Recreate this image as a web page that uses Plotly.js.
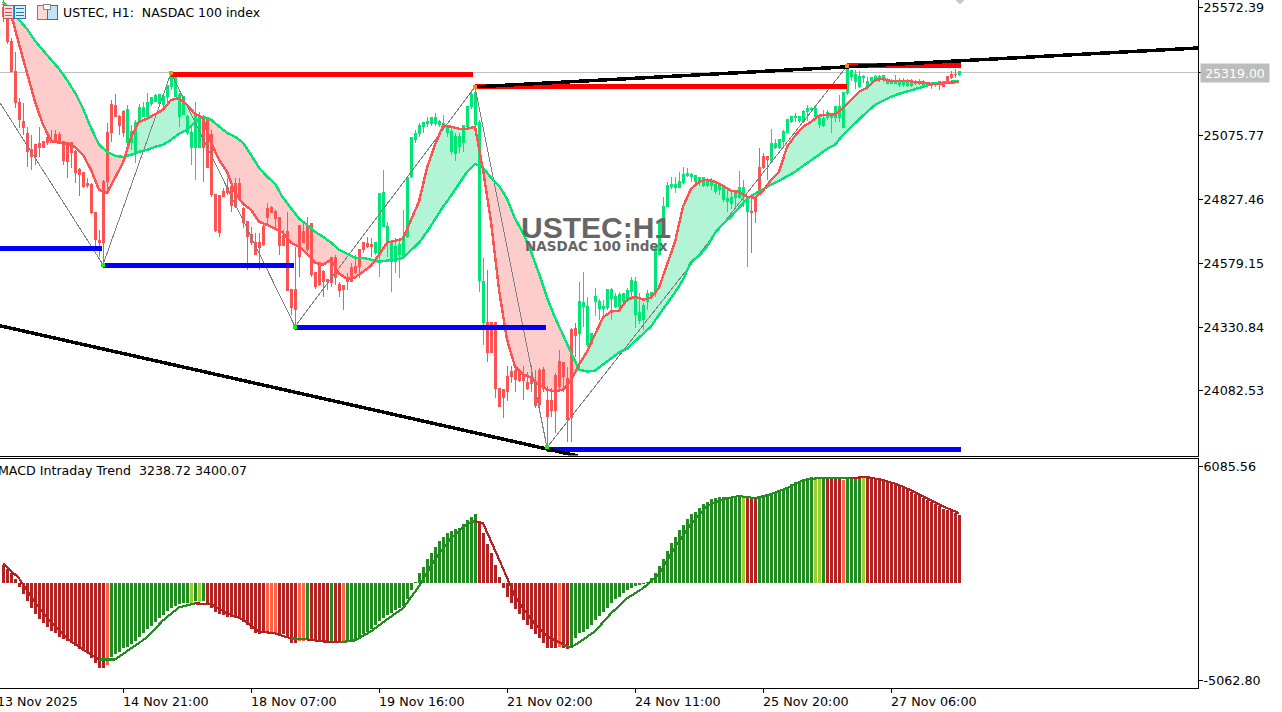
<!DOCTYPE html>
<html>
<head>
<meta charset="utf-8">
<script src="https://cdn.plot.ly/plotly-3.0.1.min.js"></script>
<style>
html,body{margin:0;padding:0;background:#fff;overflow:hidden}
#chart{width:1282px;height:712px}
.main-svg path{shape-rendering:crispEdges}
</style>
</head>
<body>
<div id="chart"></div>
<script>
// Hourly candles (USTEC H1). Body edges are kept as top/bottom because the candle colour
// follows the trend runs below, not the direction of the bar.
const highs=[25602,25532,25454,25399,25221,25202,25109,25078,25039,25109,25050,25085,25097,25097,25089,25050,25050,25050,25019,24950,24934,24911,24891,24775,24709,24903,25124,25213,25237,25156,25175,
25194,25117,25136,25198,25206,25241,25221,25237,25233,25241,25268,25318,25306,25241,25225,25156,25117,25206,25167,
25156,25148,25097,24845,24841,24872,24911,24876,24911,24911,24798,24740,24721,24697,24697,24740,24814,24802,24787,24756,24709,24779,24476,24643,24725,24744,24760,24732,24542,24585,24554,24515,24600,24612,24507,24496,24542,24581,24612,24635,24662,24682,24678,
24662,24852,24942,24740,24670,24678,24670,24787,24915,25066,25097,25124,25128,25148,25144,25163,25136,25156,25117,25113,25085,25085,25117,25186,25252,25256,25136,24600,
24554,24352,24352,24092,24088,24178,24178,24178,24166,24178,24158,24185,24166,24170,24174,24100,24096,24154,24243,24197,24174,24329,24348,
24507,24546,24449,24309,24484,24441,24437,24480,24484,24465,24468,24465,24484,24527,24527,24465,24426,24476,24468,24643,24748,24837,24895,24915,24915,24934,24954,24950,24930,24922,24915,24915,24911,24911,24891,24891,24876,24864,24856,24864,24938,24903,24837,
24833,24837,25027,25008,24996,
25101,25062,25062,25097,25140,25152,25163,25152,25175,25194,25186,25194,25152,25175,25175,25163,25186,25233,25241,25349,25330,25330,25326,25311,25303,25303,25311,25311,25311,25299,25295,25311,25299,25299,25295,25295,25291,25295,25291,25279,25283,25283,
25283,25283,25307,25326,25334,
25326];
const bodyTop=[25571,25524,25439,25322,25202,25128,25082,25019,25039,25043,25050,25066,25054,25078,25078,25050,25047,25047,25012,24942,24930,24888,24884,24775,24666,24895,25085,25194,25190,25148,25167,
25175,25089,25124,25182,25182,25202,25221,25229,25233,25225,25268,25303,25299,25233,25225,25148,25085,25152,25148,
25148,25144,25078,24845,24841,24857,24872,24876,24888,24888,24791,24740,24690,24659,24659,24721,24791,24795,24779,24756,24686,24701,24476,24476,24725,24701,24721,24732,24542,24581,24546,24515,24600,24600,24496,24492,24523,24562,24566,24631,24659,24655,24651,
24659,24849,24852,24721,24662,24643,24651,24682,24911,25066,25082,25113,25124,25128,25144,25144,25128,25120,25105,25089,25070,25070,25113,25186,25233,25241,25124,24507,
24348,24348,24348,24092,24088,24139,24158,24162,24154,24147,24115,24127,24119,24162,24166,24046,24046,24143,24197,24193,24131,24321,24325,
24430,24426,24410,24306,24449,24430,24410,24476,24476,24449,24457,24461,24472,24511,24507,24387,24414,24461,24465,24643,24736,24798,24880,24884,24884,24895,24922,24926,24922,24919,24911,24911,24895,24895,24884,24880,24876,24829,24833,24849,24872,24872,24833,
24779,24833,24950,24992,24992,
25043,25043,25058,25089,25136,25148,25148,25148,25167,25179,25179,25179,25140,25140,25163,25156,25186,25186,25241,25330,25326,25311,25303,25303,25283,25299,25303,25303,25307,25291,25287,25287,25287,25287,25283,25279,25283,25283,25283,25276,25279,25279,
25283,25279,25303,25314,25314,
25322];
const bodyBottom=[25539,25439,25322,25202,25136,25105,25012,24992,24992,25027,25027,25047,25047,25050,25050,24977,24973,25008,24930,24922,24876,24880,24775,24670,24659,24659,24895,25085,25148,25113,25085,
25047,25047,25008,25128,25148,25148,25198,25206,25198,25194,25225,25264,25225,25148,25156,25085,25027,25027,25027,
25027,24950,24845,24705,24697,24837,24852,24802,24798,24833,24736,24682,24659,24612,24639,24651,24756,24775,24752,24647,24647,24472,24406,24399,24604,24659,24631,24534,24488,24496,24507,24507,24503,24523,24472,24476,24507,24507,24542,24566,24631,24643,24643,
24620,24620,24721,24662,24585,24585,24612,24604,24682,24915,25058,25082,25109,25120,25120,25120,25117,25105,25085,25012,25004,25031,25047,25109,25186,25117,24511,24348,
24232,24232,24092,24022,24057,24080,24139,24127,24123,24123,24092,24112,24026,24030,24092,23984,24007,24007,24100,24139,23972,23980,24298,
24306,24410,24263,24267,24430,24403,24403,24406,24441,24410,24410,24430,24434,24468,24379,24356,24360,24430,24453,24465,24612,24736,24798,24876,24872,24872,24891,24919,24915,24895,24895,24880,24880,24880,24856,24864,24825,24818,24810,24833,24833,24837,24779,
24775,24779,24864,24950,24981,
24977,25027,25027,25050,25085,25128,25144,25132,25128,25167,25175,25148,25117,25113,25144,25144,25144,25144,25105,25241,25303,25283,25264,25299,25260,25287,25287,25295,25291,25279,25279,25279,25272,25272,25268,25268,25279,25279,25268,25272,25268,25272,
25276,25264,25287,25299,25311,
25311];
const lows=[25516,25431,25322,25182,25105,25078,24954,24942,24961,24992,25027,25039,25047,25047,25043,24961,24911,24950,24891,24841,24872,24872,24771,24631,24604,24577,24864,25050,25148,25078,25070,
25019,25019,24969,25128,25148,25148,25190,25206,25186,25182,25190,25252,25225,25109,25156,25078,24961,24903,25027,
24895,24950,24837,24701,24682,24837,24845,24779,24795,24825,24717,24554,24651,24612,24554,24647,24732,24775,24717,24612,24647,24472,24379,24337,24527,24659,24624,24527,24480,24492,24449,24476,24488,24496,24449,24399,24476,24507,24538,24523,24620,24639,24604,
24612,24527,24721,24604,24468,24542,24523,24604,24678,24911,25047,25070,25085,25109,25113,25113,25109,25097,25070,25000,24977,25008,25012,25109,25179,25117,24468,24263,
24197,24232,24057,24022,23976,24042,24112,24077,24119,24046,24088,24077,24018,24022,24080,23867,23980,23921,24077,24077,23883,23883,24216,
24166,24333,24255,24263,24372,24360,24372,24399,24360,24406,24399,24426,24430,24437,24329,24341,24321,24399,24445,24449,24612,24682,24798,24868,24852,24872,24888,24915,24895,24876,24880,24876,24876,24864,24849,24845,24818,24779,24790,24798,24829,24798,24566,
24620,24736,24864,24946,24903,
24973,25023,25023,25027,25085,25124,25128,25124,25124,25132,25175,25144,25105,25109,25136,25085,25128,25128,25105,25233,25287,25256,25260,25279,25252,25283,25283,25283,25283,25276,25279,25276,25264,25264,25264,25264,25272,25272,25260,25264,25256,25264,
25252,25264,25283,25295,25299,
25307];
const candleRuns=[['r',31],['g',19],['r',43],['g',28],['r',23],['g',43],['r',5],['g',42],['r',5],['g',1]];

// Moving averages, read at every second bar plus the last bar
const maFast=[25586,25547,25431,25318,25206,25117,25054,25047,25043,25031,
25000,24942,24864,24852,24911,24969,25070,25128,25140,25156,
25175,25213,25221,25194,25159,25144,25047,24981,24934,24852,
24810,24787,24740,24728,24713,24697,24659,24643,24616,24581,
24573,24593,24538,24519,24523,24546,24569,24612,24659,24666,
24674,24748,24818,24950,25039,25113,25109,25101,25101,25109,
24942,24740,24476,24282,24178,24147,24135,24108,24088,24080,
24088,24123,24185,24236,24302,24368,24391,24395,24437,24449,
24437,24445,24484,24569,24662,24798,24868,24895,24903,24895,
24880,24860,24856,24837,24833,24860,24903,24934,25031,25074,
25109,25128,25152,25156,25156,25182,25213,25245,25260,25291,
25295,25287,25287,25287,25283,25279,25276,25276,25279,25283,25283];
const maSlow=[25594,25555,25524,25489,25442,25407,25373,25334,25291,25241,
25179,25105,25039,25012,24996,24992,25000,25012,25019,25031,
25039,25058,25082,25097,25128,25148,25136,25109,25085,25070,
25047,25000,24950,24915,24888,24833,24791,24752,24728,24701,
24682,24659,24631,24616,24600,24600,24593,24585,24589,24593,
24600,24631,24659,24701,24752,24798,24841,24888,24934,24965,
24950,24911,24880,24829,24752,24697,24624,24538,24445,24368,
24298,24232,24166,24158,24162,24185,24209,24232,24247,24275,
24302,24333,24379,24422,24465,24515,24585,24608,24643,24697,
24732,24760,24795,24829,24849,24868,24884,24899,24915,24934,
24957,24977,25000,25023,25039,25078,25109,25140,25167,25194,
25210,25225,25237,25245,25256,25264,25276,25279,25283,25287,25287];

// Zigzag pivots, support / resistance levels, trend lines
const zigzagBars=[-0.75,25,42,73,118,136,211];
const zigzagPrices=[25202,24573,25318,24333,25264,23863,25345];
const pivotBars=[25,42,73,118,136,211];
const pivotPrices=[24573,25318,24333,25264,23863,25345];
const pivotColours=['#00ff00','#ff8c00','#00ff00','#ff8c00','#00ff00','#ff8c00'];
const resistance=[[42,117.5,25312],[118,211,25265],[211,239.5,25347]];
const support=[[-0.75,24.75,24637],[25,72.75,24571],[73,135.75,24330],[136,239.5,23857]];
const upperTrendBars=[118,298.75];
const upperTrendPrices=[25264,25415];
const lowerTrendBars=[-0.75,143.75];
const lowerTrendPrices=[24336,23830];
const bidPrice=25319;

// MACD Intraday Trend
const macdHist=[938,729,521,208,-208,-573,-938,-1302,-1615,-1875,-2084,-2292,-2500,-2605,-2813,-2917,-3021,-3125,-3282,-3438,-3542,-3646,-3907,-4167,-4428,-4428,-4271,
-3855,-3698,-3594,-3386,-3334,-3177,-3021,-2813,-2605,-2396,-2240,-2032,-1823,-1667,-1459,-1302,-1198,-1094,-1042,-1042,-1042,-938,-990,-938,
-1146,-1302,-1511,-1615,-1667,-1771,-1771,-1823,-1875,-2032,-2188,-2396,-2605,-2657,-2605,-2605,-2605,-2605,-2657,-2657,-2865,-3125,-3125,-3021,-3021,-2917,-2917,-3021,-3073,-3073,-3125,-3073,-3073,-3073,-3073,
-3073,-2969,-2917,-2813,-2657,-2552,-2396,-2188,-1979,-1823,-1667,-1563,-1406,-1302,-1198,-833,-365,52,521,
833,1250,1563,1875,2188,2396,2605,2709,2813,2865,3073,3282,3438,3594,
3125,2605,2032,1563,938,313,-260,-729,-1042,-1354,-1615,-1927,-2188,-2396,-2657,-2865,-3125,-3386,-3386,-3386,-3334,-3386,-3438,
-3282,-2865,-2605,-2552,-2396,-2188,-1927,-1719,-1511,-1302,-1042,-833,-729,-521,-365,-260,-156,-104,-52,52,260,
521,886,1250,1667,2084,2396,2761,3021,3334,3594,3698,3907,4115,4219,4376,4428,4480,4480,4480,4480,4480,4480,4480,
4480,4428,4428,4428,4480,4532,4636,4740,4792,4896,5001,5157,5261,5313,5417,5469,5522,5522,5469,5469,5469,5469,5469,5469,5365,5417,5469,5469,5522,5522,
5522,5522,5469,5417,5365,5261,5209,5105,5053,4949,4844,4740,4636,4584,4428,4323,4219,4115,4011,3855,3803,3750,3646,3542];
const macdRuns=[['r',26],['o',1],['g',20],['y',1],['g',1],['y',1],['g',1],['r',15],['o',3],['r',5],['o',2],['g',1],['r',5],['g',1],['r',2],['o',1],['g',33],['r',20],['o',1],['r',2],['g',43],['y',1],['r',3],['g',14],['y',2],['g',1],['r',4],['o',1],['g',4],['y',1],['r',24]];
const signalBars=[0,4,8,12,16,20,24,28,32,36,40,44,48,52,56,60,64,68,72,76,80,84,88,92,96,100,104,108,112,116,118,120,124,128,132,136,140,142,144,148,152,156,160,164,168,172,176,180,184,188,192,196,200,204,208,212,216,220,224,228,232,236,239];
const signalValues=[1042,260,-990,-2032,-2865,-3438,-3959,-3959,-3386,-2813,-1927,-1250,-1042,-1094,-1563,-1875,-2500,-2605,-2865,-2917,-3021,-3073,-2969,-2500,-1875,-1302,-156,1250,2344,3073,3230,3125,1250,-677,-1875,-2761,-3177,-3334,-3073,-2500,-1563,-781,-260,469,1875,3073,4011,4376,4532,4428,4636,4949,5365,5469,5469,5469,5522,5365,5105,4740,4323,3907,3646];

const tickBars=[30,62,94,126,158,190,222];
const tickLabels=['14 Nov 21:00','18 Nov 07:00','19 Nov 16:00','21 Nov 02:00','24 Nov 11:00','25 Nov 20:00','27 Nov 06:00'];
const firstDateLabel='13 Nov 2025';
const priceTicks=[25572.39,25319.00,25075.77,24827.46,24579.15,24330.84,24082.53];
const priceTickText=['25572.39','','25075.77','24827.46','24579.15','24330.84','24082.53'];
const macdTicks=[6085.56,-5062.80];
const macdTickText=['6085.56','-5062.80'];
const headerText='USTEC, H1:\u00a0\u00a0NASDAC 100 index';
const macdText='MACD Intraday Trend\u00a0\u00a03238.72 3400.07';
const watermarkTitle='<b>USTEC:H1</b>';
const watermarkSub='<b>NASDAC 100 index</b>';

if(highs.length!==240||bodyTop.length!==240||bodyBottom.length!==240||lows.length!==240||macdHist.length!==240||maFast.length!==121||maSlow.length!==121)
  throw new Error([highs.length,bodyTop.length,bodyBottom.length,lows.length,macdHist.length,maFast.length,maSlow.length].join());

const expand=r=>r.flatMap(([c,n])=>Array(n).fill(c));
const bars=highs.map((_,i)=>i);
const maBars=maFast.map((_,i)=>i===120?239:i*2);
const candleFlag=expand(candleRuns);
const macdFlag=expand(macdRuns);
const macdPalette={r:'#b22222',o:'#ff6347',g:'#228b22',y:'#9acd32'};
const RED='#ff5252',GREEN='#00e676',PINK='#ffcccc',MINT='#b2f5d6';
const maBase=maFast.map((v,i)=>Math.min(v,maSlow[i]));

function candles(flag,colour){
  const idx=bars.filter(i=>candleFlag[i]===flag);
  const side={line:{color:colour,width:1},fillcolor:colour};
  return {type:'candlestick',xaxis:'x',yaxis:'y3',x:idx,
    open:idx.map(i=>bodyBottom[i]),high:idx.map(i=>highs[i]),low:idx.map(i=>lows[i]),close:idx.map(i=>bodyTop[i]),
    increasing:side,decreasing:side,whiskerwidth:0,hoverinfo:'skip',showlegend:false};
}
const noLine={width:0,color:'rgba(0,0,0,0)'};
const line=(x,y,color,width,axis)=>({type:'scatter',mode:'lines',x,y,xaxis:'x',yaxis:axis||'y4',line:{color,width},hoverinfo:'skip',showlegend:false});
const levelTrace=(l,color)=>line([l[0],l[1]],[l[2],l[2]],color,5);

function signalTrace(colour,isColour){
  const y=signalBars.map((b,k)=>{
    const next=signalBars[k+1];
    return isColour(macdFlag[b])||(next!==undefined&&isColour(macdFlag[next]))?signalValues[k]:null;
  });
  return {type:'scatter',mode:'lines',x:signalBars,y,xaxis:'x2',yaxis:'y2',line:{color:colour,width:2.2},hoverinfo:'skip',showlegend:false};
}

const traces=[
  line([-0.75,298.75],[bidPrice,bidPrice],'#c0c0c0',1,'y'),
  {type:'scatter',mode:'lines',x:maBars,y:maBase,xaxis:'x',yaxis:'y',line:noLine,hoverinfo:'skip',showlegend:false},
  {type:'scatter',mode:'lines',x:maBars,y:maFast,xaxis:'x',yaxis:'y',line:noLine,fill:'tonexty',fillcolor:MINT,hoverinfo:'skip',showlegend:false},
  {type:'scatter',mode:'lines',x:maBars,y:maBase,xaxis:'x',yaxis:'y',line:noLine,hoverinfo:'skip',showlegend:false},
  {type:'scatter',mode:'lines',x:maBars,y:maSlow,xaxis:'x',yaxis:'y',line:noLine,fill:'tonexty',fillcolor:PINK,hoverinfo:'skip',showlegend:false},
  candles('r',RED),
  candles('g',GREEN),
  line(zigzagBars,zigzagPrices,'#808080',1),
  line(maBars,maSlow,GREEN,2.4),
  line(maBars,maFast,RED,2.4),
  ...support.map(l=>levelTrace(l,'#0000ff')),
  ...resistance.map(l=>levelTrace(l,'#ff0000')),
  line(upperTrendBars,upperTrendPrices,'#000000',3.5),
  line(lowerTrendBars,lowerTrendPrices,'#000000',3.5),
  {type:'scatter',mode:'markers',x:pivotBars,y:pivotPrices,xaxis:'x',yaxis:'y4',marker:{symbol:'square',size:4,color:pivotColours},hoverinfo:'skip',showlegend:false},
  {type:'bar',x:bars,y:macdHist,xaxis:'x2',yaxis:'y2',width:0.75,marker:{color:macdFlag.map(c=>macdPalette[c]),line:{width:0}},hoverinfo:'skip',showlegend:false},
  signalTrace('#b22222',c=>c==='r'||c==='o'),
  signalTrace('#228b22',c=>c==='g'||c==='y'),
];

const W=1198,H=688,priceRange=[23831.9,25601.5],macdRange=[-5444,6485];
const barRange=[-0.75,298.75];
const font='"DejaVu Sans",sans-serif';
const rect=(x0,y0,x1,y1,fill,stroke)=>({type:'rect',xref:'paper',yref:'paper',x0:x0/W,x1:x1/W,y0:1-y0/H,y1:1-y1/H,fillcolor:fill,line:{color:stroke||fill,width:1},layer:'above'});
const hline=(x0,x1,y,c)=>({type:'line',xref:'paper',yref:'paper',x0:x0/W,x1:x1/W,y0:1-y/H,y1:1-y/H,line:{color:c,width:1},layer:'above'});
const shapes=[
  rect(3,5,13,18,'#fde0dc','#d9534f'),hline(5,12,8,'#d9534f'),hline(5,12,12,'#d9534f'),hline(5,12,15,'#d9534f'),
  rect(14,5,25,18,'#dceefb','#1f78c1'),hline(16,24,8,'#1f78c1'),hline(16,24,12,'#1f78c1'),hline(16,24,15,'#1f78c1'),
  rect(37,5,47,19,'#fdd9d2','#d9534f'),rect(47,5,57,19,'#bfe3fb','#1f78c1'),rect(43,4,50,9,'#ffffff','#8a8a8a'),
  {type:'path',xref:'paper',yref:'paper',path:`M ${955/W} 1 L ${965/W} 1 L ${960/W} ${1-4/H} Z`,fillcolor:'#c8c8c8',line:{width:0},layer:'above'},
];
const paperText=(text,xp,yp,size,opts)=>Object.assign({text,xref:'paper',yref:'paper',x:xp/W,y:1-yp/H,xanchor:'left',yanchor:'middle',showarrow:false,align:'left',font:{family:font,size,color:'#000'}},opts||{});
const annotations=[
  paperText(headerText,61,12,12.5),
  paperText(macdText,-4,470,12.6),
  paperText(firstDateLabel,-5,701,12.6),
  ...tickBars.map((b,k)=>paperText(tickLabels[k],(4*b+3)-2,701,12.7)),
  paperText(watermarkTitle,519,227,30,{font:{family:'"Liberation Sans",sans-serif',size:30,color:'#666666'}}),
  paperText(watermarkSub,523,246,13.5,{font:{family:font,size:13.5,color:'#666666'}}),
  {text:'25319.00',xref:'paper',yref:'paper',x:1235/W,y:1-72.5/H,xanchor:'center',yanchor:'middle',showarrow:false,bgcolor:'#bdbdbd',borderpad:1,width:66,height:16,font:{family:font,size:12.5,color:'#ffffff'}},
];
const baseAxis={showgrid:false,zeroline:false,fixedrange:true};
const axisFont={family:font,size:12.7,color:'#000'};
const layout={
  width:1282,height:712,margin:{l:0,r:84,t:0,b:24,pad:0},paper_bgcolor:'#fff',plot_bgcolor:'#fff',
  showlegend:false,boxmode:'overlay',boxgap:0.5,boxgroupgap:0,bargap:0,barmode:'overlay',
  xaxis:Object.assign({},baseAxis,{range:barRange,anchor:'y',showline:true,linecolor:'#000',linewidth:1,ticks:'',showticklabels:false,rangeslider:{visible:false}}),
  xaxis2:Object.assign({},baseAxis,{range:barRange,anchor:'y2',showline:true,mirror:true,linecolor:'#000',linewidth:1,ticks:'outside',ticklen:4,tickcolor:'#000',tickvals:tickBars,showticklabels:false}),
  yaxis:Object.assign({},baseAxis,{domain:[(H-455.5)/H,1],range:priceRange,anchor:'x',side:'right',showline:true,linecolor:'#000',linewidth:1,ticks:'outside',ticklen:4,tickcolor:'#000',tickvals:priceTicks,ticktext:priceTickText,tickfont:axisFont,ticklabeloverflow:'allow',ticklabelstandoff:-2}),
  yaxis3:Object.assign({},baseAxis,{overlaying:'y',range:priceRange,anchor:'x',side:'right',visible:false}),
  yaxis4:Object.assign({},baseAxis,{overlaying:'y',range:priceRange,anchor:'x',side:'right',visible:false}),
  yaxis2:Object.assign({},baseAxis,{domain:[0,(H-458.5)/H],range:macdRange,anchor:'x2',side:'right',showline:true,linecolor:'#000',linewidth:1,ticks:'outside',ticklen:4,tickcolor:'#000',tickvals:macdTicks,ticktext:macdTickText,tickfont:axisFont,ticklabeloverflow:'allow',ticklabelstandoff:-2}),
  shapes,annotations
};
Plotly.newPlot('chart',traces,layout,{displayModeBar:false,staticPlot:true});
</script>
</body>
</html>
